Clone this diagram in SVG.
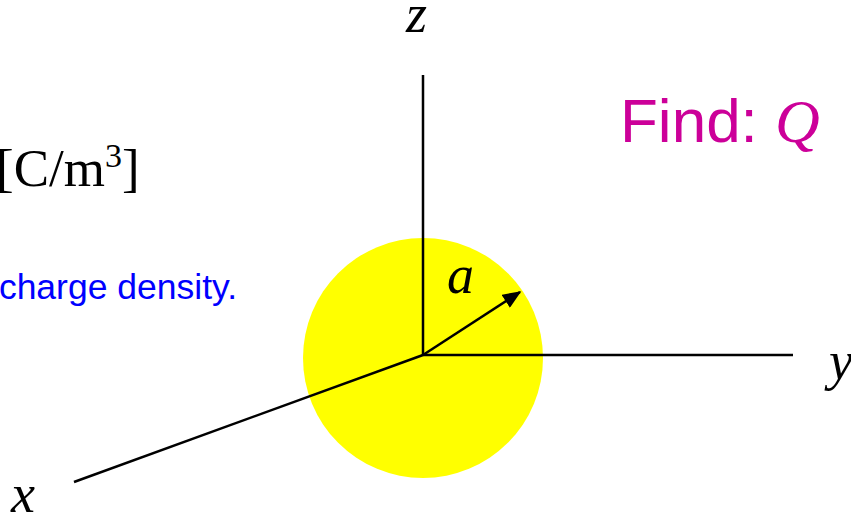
<svg xmlns="http://www.w3.org/2000/svg" width="851" height="515" viewBox="0 0 851 515">
<defs>
<style>
.ax{stroke:#000;stroke-width:2.5;fill:none}
.lbl{font-family:"Liberation Serif",serif;font-style:italic;font-size:54px;fill:#000}
</style>
<marker id="ah" viewBox="0 0 12 10" refX="11" refY="5" markerWidth="7.6" markerHeight="6.2" orient="auto" markerUnits="strokeWidth">
<path d="M0,0 L12,5 L0,10 z" fill="#000"/>
</marker>
</defs>
<rect width="851" height="515" fill="#fff"/>
<g id="sphere"><circle cx="423" cy="358" r="120" fill="#ffff00"/></g>
<g id="connectors">
<line class="ax" x1="423" y1="75" x2="423" y2="355"/>
<line class="ax" x1="423" y1="355" x2="793" y2="355"/>
<line class="ax" x1="423" y1="355" x2="74" y2="482"/>
<line class="ax" x1="423" y1="355" x2="520" y2="292" marker-end="url(#ah)"/>
</g>
<g id="labels">
<text class="lbl" x="406" y="32">z</text>
<text class="lbl" x="829" y="379">y</text>
<text class="lbl" x="11" y="512">x</text>
<text class="lbl" x="447" y="293" font-size="48">a</text>
</g>
<g id="units"><text x="-4" y="186" font-family="'Liberation Serif',serif" font-size="53" fill="#000">[C/m<tspan font-size="34" dy="-19">3</tspan><tspan dy="19">]</tspan></text></g>
<g id="desc"><text x="237" y="299" text-anchor="end" font-family="'Liberation Sans',Arial,sans-serif" font-size="35.5" fill="#0000ff">charge density.</text></g>
<g id="find"><text x="620" y="142" font-family="'Liberation Sans',Arial,sans-serif" font-size="62" fill="#cc0099">Find: <tspan font-family="'Liberation Serif',serif" font-style="italic">Q</tspan></text></g>
</svg>
